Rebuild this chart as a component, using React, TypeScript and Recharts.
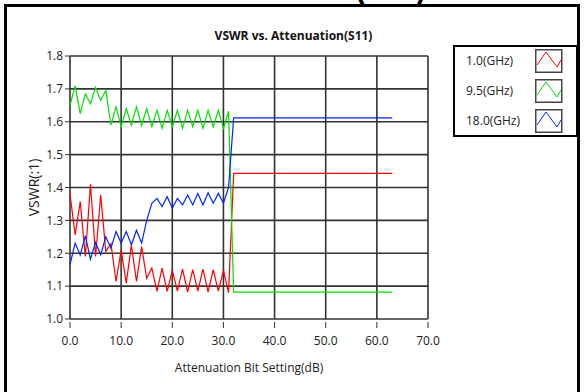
import React from 'react';
import { LineChart, Line, XAxis, YAxis, CartesianGrid, Legend } from 'recharts';

const FONT = '"Open Sans", "Liberation Sans", Arial, sans-serif';

// Attenuation bit settings (dB)
const attenuation = [
  0, 1, 2, 3, 4, 5, 6, 7, 8, 9, 10, 11, 12, 13, 14, 15,
  16, 17, 18, 19, 20, 21, 22, 23, 24, 25, 26, 27, 28, 29, 30, 31,
  32, 33, 34, 35, 36, 37, 38, 39, 40, 41, 42, 43, 44, 45, 46, 47,
  48, 49, 50, 51, 52, 53, 54, 55, 56, 57, 58, 59, 60, 61, 62, 63,
];

// VSWR at 1.0 GHz
const vswr1GHz = [
  1.38, 1.256, 1.357, 1.19, 1.41, 1.19, 1.377, 1.205,
  1.23, 1.114, 1.21, 1.109, 1.225, 1.114, 1.22, 1.124,
  1.155, 1.084, 1.155, 1.084, 1.148, 1.085, 1.152, 1.082,
  1.15, 1.085, 1.152, 1.082, 1.15, 1.085, 1.148, 1.08,
  1.443, 1.443, 1.443, 1.443, 1.443, 1.443, 1.443, 1.443,
  1.443, 1.443, 1.443, 1.443, 1.443, 1.443, 1.443, 1.443,
  1.443, 1.443, 1.443, 1.443, 1.443, 1.443, 1.443, 1.443,
  1.443, 1.443, 1.443, 1.443, 1.443, 1.443, 1.443, 1.443,
];

// VSWR at 9.5 GHz
const vswr9p5GHz = [
  1.65, 1.71, 1.625, 1.685, 1.655, 1.705, 1.665, 1.695,
  1.59, 1.645, 1.585, 1.64, 1.59, 1.645, 1.59, 1.64,
  1.585, 1.635, 1.58, 1.635, 1.585, 1.635, 1.58, 1.635,
  1.585, 1.635, 1.58, 1.635, 1.585, 1.635, 1.58, 1.632,
  1.082, 1.082, 1.082, 1.082, 1.082, 1.082, 1.082, 1.082,
  1.082, 1.082, 1.082, 1.082, 1.082, 1.082, 1.082, 1.082,
  1.082, 1.082, 1.082, 1.082, 1.082, 1.082, 1.082, 1.082,
  1.082, 1.082, 1.082, 1.082, 1.082, 1.082, 1.082, 1.082,
];

// VSWR at 18.0 GHz
const vswr18GHz = [
  1.165, 1.231, 1.195, 1.253, 1.182, 1.233, 1.195, 1.25,
  1.215, 1.266, 1.231, 1.266, 1.226, 1.27, 1.231, 1.3,
  1.352, 1.367, 1.342, 1.372, 1.337, 1.367, 1.347, 1.377,
  1.347, 1.382, 1.347, 1.384, 1.352, 1.382, 1.352, 1.4,
  1.612, 1.612, 1.612, 1.612, 1.612, 1.612, 1.612, 1.612,
  1.612, 1.612, 1.612, 1.612, 1.612, 1.612, 1.612, 1.612,
  1.612, 1.612, 1.612, 1.612, 1.612, 1.612, 1.612, 1.612,
  1.612, 1.612, 1.612, 1.612, 1.612, 1.612, 1.612, 1.612,
];

const seriesNames = ['1.0(GHz)', '9.5(GHz)', '18.0(GHz)'];
const seriesColors = ['#ff0000', '#00e000', '#0026ff'];

const xMajorTicks = [0, 10, 20, 30, 40, 50, 60, 70];
const yMajorTicks = [1.0, 1.1, 1.2, 1.3, 1.4, 1.5, 1.6, 1.7, 1.8];
const xMinorTicks = Array.from({ length: 71 }, (_, i) => i);
const yMinorTicks = Array.from({ length: 41 }, (_, i) => Number((1 + i * 0.02).toFixed(2)));

const data = attenuation.map((a, i) => ({
  att: a,
  f1: vswr1GHz[i],
  f2: vswr9p5GHz[i],
  f3: vswr18GHz[i],
}));

const renderLegend = (props: any) => {
  const raw = props.payload || [];
  const payload = seriesNames
    .map((n) => raw.find((e: any) => e.value === n))
    .filter(Boolean);
  return (
    <div
      style={{
        width: 125,
        height: 92,
        boxSizing: 'border-box',
        border: '2.5px solid #000',
        background: '#fff',
        position: 'relative',
      }}
    >
      {payload.map((entry: any, i: number) => (
        <div
          key={i}
          style={{ position: 'absolute', left: 0, top: 1.5 + i * 30, height: 24, width: 120 }}
        >
          <span
            style={{
              position: 'absolute',
              left: 11,
              top: 0,
              lineHeight: '24px',
              fontSize: 12,
              fontFamily: FONT,
              color: '#222',
              whiteSpace: 'nowrap',
            }}
          >
            {entry.value}
          </span>
          <svg width={28} height={24} style={{ position: 'absolute', left: 80, top: 0 }}>
            <rect x={0.75} y={0.75} width={26} height={22.5} fill="#fff" stroke="#444" strokeWidth={1.5} />
            <polyline
              points="2,16 11,3 22,18 26,11"
              fill="none"
              stroke={entry.color}
              strokeWidth={1}
            />
          </svg>
        </div>
      ))}
    </div>
  );
};

const yTitle = (p: any) => {
  const vb = p.viewBox || {};
  const cx = vb.x + 33;
  const cy = vb.y + vb.height / 2;
  return (
    <text
      x={cx}
      y={cy}
      transform={`rotate(-90 ${cx} ${cy})`}
      textAnchor="middle"
      dominantBaseline="central"
      fontSize={14}
      fontFamily={FONT}
      fill="#222"
    >
      VSWR(:1)
    </text>
  );
};

const xTitle = (p: any) => {
  const vb = p.viewBox || {};
  return (
    <text
      x={vb.x + vb.width / 2}
      y={vb.y + 48}
      textAnchor="middle"
      dominantBaseline="central"
      fontSize={12}
      fontFamily={FONT}
      fill="#222"
    >
      Attenuation Bit Setting(dB)
    </text>
  );
};

export default function App() {
  return (
    <div style={{ position: 'absolute', left: 0, top: 0, width: 587, height: 392, background: '#fff', overflow: 'hidden' }}>
      <div
        style={{
          position: 'absolute',
          left: 4,
          top: 4,
          width: 576,
          height: 400,
          boxSizing: 'border-box',
          border: '3px solid #000',
        }}
      />
      <svg width={587} height={20} style={{ position: 'absolute', left: 0, top: 0 }}>
        <text x={356} y={0} fontSize={29} fontWeight="bold" fontFamily='"Liberation Sans", Arial, sans-serif' fill="#000">
          (S11)
        </text>
      </svg>
      <div
        style={{
          position: 'absolute',
          left: 0,
          top: 27,
          width: 587,
          textAlign: 'center',
          lineHeight: '18px',
          fontSize: 12,
          fontWeight: 700,
          fontFamily: FONT,
          color: '#111',
        }}
      >
        VSWR vs. Attenuation(S11)
      </div>
      <div style={{ position: 'absolute', left: 0, top: 0 }}>
        <LineChart
          width={587}
          height={392}
          data={data}
          margin={{ top: 56, right: 159, bottom: 12, left: 0 }}
        >
          <CartesianGrid stroke="#333" strokeWidth={1.6} />
          <XAxis
            xAxisId="minor"
            dataKey="att"
            type="number"
            domain={[0, 70]}
            ticks={xMinorTicks}
            tick={false}
            tickSize={4}
            height={0}
            axisLine={false}
            tickLine={{ stroke: '#333', transform: 'translate(0,3)' }}
          />
          <XAxis
            dataKey="att"
            type="number"
            domain={[0, 70]}
            ticks={xMajorTicks}
            tickFormatter={(v: number) => v.toFixed(1)}
            tickSize={6}
            tickMargin={11}
            height={61}
            axisLine={false}
            tickLine={{ stroke: '#333', transform: 'translate(0,3)' }}
            tick={{ fill: '#222', fontSize: 12, fontFamily: FONT }}
            label={xTitle}
          />
          <YAxis
            yAxisId="minor"
            type="number"
            domain={[1, 1.8]}
            ticks={yMinorTicks}
            tick={false}
            tickSize={3}
            width={0}
            axisLine={false}
            tickLine={{ stroke: '#333' }}
          />
          <YAxis
            type="number"
            domain={[1, 1.8]}
            ticks={yMajorTicks}
            tickFormatter={(v: number) => v.toFixed(1)}
            tickSize={5}
            tickMargin={2}
            width={70}
            axisLine={false}
            tickLine={{ stroke: '#333' }}
            tick={{ fill: '#222', fontSize: 12, fontFamily: FONT }}
            label={yTitle}
          />
          <Legend
            layout="vertical"
            align="center"
            verticalAlign="middle"
            itemSorter="dataKey"
            content={renderLegend}
            wrapperStyle={{ position: 'absolute', left: 453, top: 45, width: 125, height: 92 }}
          />
          <Line
            name={seriesNames[0]}
            dataKey="f1"
            stroke={seriesColors[0]}
            strokeWidth={1.2}
            dot={false}
            isAnimationActive={false}
          />
          <Line
            name={seriesNames[1]}
            dataKey="f2"
            stroke={seriesColors[1]}
            strokeWidth={1.2}
            dot={false}
            isAnimationActive={false}
          />
          <Line
            name={seriesNames[2]}
            dataKey="f3"
            stroke={seriesColors[2]}
            strokeWidth={1.2}
            dot={false}
            isAnimationActive={false}
          />
        </LineChart>
      </div>
    </div>
  );
}
